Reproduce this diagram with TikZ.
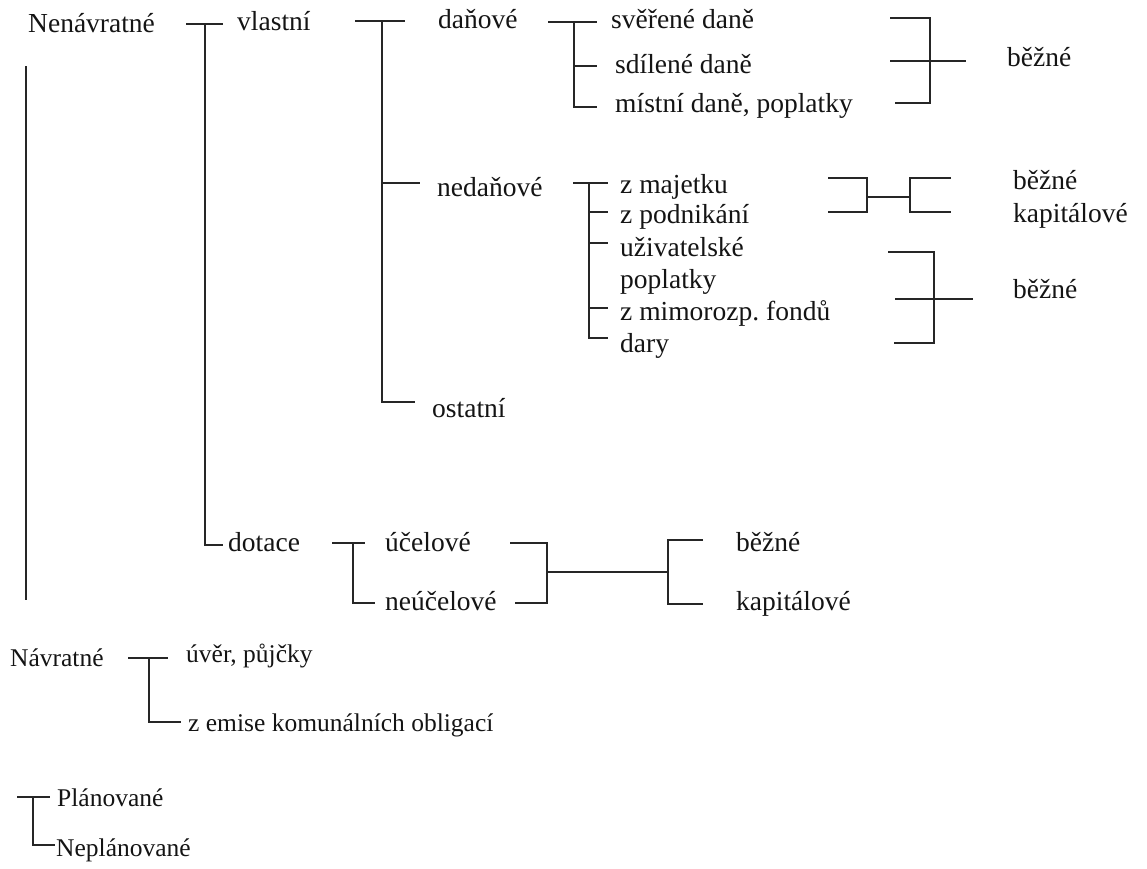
\documentclass[tikz,border=0pt]{standalone}
\usepackage{fontspec}
\setmainfont{Liberation Serif}
\begin{document}
\frenchspacing
\begin{tikzpicture}[x=1pt,y=-1pt,
  lbl/.style={anchor=base west,inner sep=0pt,text=black!92,
              font=\fontsize{27.5}{33}\selectfont},
  lblsm/.style={lbl,font=\fontsize{25.5}{31}\selectfont},
  wire/.style={line width=1.2pt,black!85}]
\useasboundingbox (0,0) rectangle (1147,868);

% ---------- labels ----------
\node[lbl] (nenav)  at (28,32)   {Nenávratné};
\node[lbl] (vlast)  at (237,30)  {vlastní};
\node[lbl] (danove) at (438,28)  {daňové};
\node[lbl] (sver)   at (611,28)  {svěřené daně};
\node[lbl] (sdil)   at (615,73)  {sdílené daně};
\node[lbl] (mist)   at (615,112) {místní daně, poplatky};
\node[lbl] (bezA)   at (1007,66) {běžné};

\node[lbl] (nedan)  at (437,196) {nedaňové};
\node[lbl] (majet)  at (620,193) {z majetku};
\node[lbl] (podn)   at (620,223) {z podnikání};
\node[lbl] (uziv)   at (620,256) {uživatelské};
\node[lbl] (popl)   at (620,288) {poplatky};
\node[lbl] (mimo)   at (620,320) {z mimorozp. fondů};
\node[lbl] (dary)   at (620,352) {dary};
\node[lbl] (bezB)   at (1013,189) {běžné};
\node[lbl] (kapB)   at (1013,222) {kapitálové};
\node[lbl] (bezC)   at (1013,298) {běžné};
\node[lbl] (ostat)  at (432,417) {ostatní};

\node[lbl] (dotace) at (228,551) {dotace};
\node[lbl] (ucel)   at (385,551) {účelové};
\node[lbl] (neucel) at (385,610) {neúčelové};
\node[lbl] (bezD)   at (736,551) {běžné};
\node[lbl] (kapD)   at (736,610) {kapitálové};

\node[lblsm] (navr)   at (10,666)  {Návratné};
\node[lblsm] (uver)   at (186,662) {úvěr, půjčky};
\node[lblsm] (emise)  at (188,731) {z emise komunálních obligací};

\node[lblsm] (plan)   at (57,806)  {Plánované};
\node[lblsm] (neplan) at (56,856)  {Neplánované};

% ---------- joints ----------
% left rule beside Nenávratné
\coordinate (rTop) at (26,66);   \coordinate (rBot) at (26,600);
% Nenávratné -> vlastní / dotace
\coordinate (a0) at (186,24);  \coordinate (a1) at (223,24);
\coordinate (aT) at (205,24);  \coordinate (aB) at (205,545); \coordinate (aE) at (223,545);
% vlastní -> daňové / nedaňové / ostatní
\coordinate (b0) at (355,21);  \coordinate (b1) at (405,21);
\coordinate (bT) at (382,21);  \coordinate (bB) at (382,402); \coordinate (bE) at (415,402);
\coordinate (bM) at (382,183); \coordinate (bN) at (420,183);
% daňové -> three taxes
\coordinate (c0) at (548,22);  \coordinate (c1) at (597,22);
\coordinate (cT) at (574,22);  \coordinate (cB) at (574,107); \coordinate (cE) at (597,107);
\coordinate (cM) at (574,66);  \coordinate (cN) at (597,66);
% taxes -> běžné
\coordinate (d0) at (890,18);  \coordinate (dT) at (930,18);
\coordinate (dB) at (930,103); \coordinate (d1) at (895,103);
\coordinate (dL) at (890,61);  \coordinate (dR) at (966,61);
% nedaňové -> six items
\coordinate (e0) at (573,183); \coordinate (e1) at (608,183);
\coordinate (eT) at (589,183); \coordinate (eB) at (589,338); \coordinate (eE) at (608,338);
\coordinate (e2) at (589,212); \coordinate (e2r) at (608,212);
\coordinate (e3) at (589,243); \coordinate (e3r) at (608,243);
\coordinate (e4) at (589,308); \coordinate (e4r) at (608,308);
% z majetku / z podnikání -> běžné / kapitálové
\coordinate (f0) at (828,178); \coordinate (fT) at (867,178);
\coordinate (fB) at (867,212); \coordinate (f1) at (828,212);
\coordinate (fM) at (867,197); \coordinate (gM) at (910,197);
\coordinate (g0) at (951,178); \coordinate (gT) at (910,178);
\coordinate (gB) at (910,212); \coordinate (g1) at (951,212);
% remaining items -> běžné
\coordinate (h0) at (888,252); \coordinate (hT) at (934,252);
\coordinate (hB) at (934,343); \coordinate (h1) at (894,343);
\coordinate (hL) at (895,299); \coordinate (hR) at (973,299);
% dotace -> účelové / neúčelové
\coordinate (i0) at (332,543); \coordinate (i1) at (365,543);
\coordinate (iT) at (353,543); \coordinate (iB) at (353,603); \coordinate (iE) at (375,603);
% účelové / neúčelové -> běžné / kapitálové
\coordinate (j0) at (510,543); \coordinate (jT) at (547,543);
\coordinate (jB) at (547,603); \coordinate (j1) at (515,603);
\coordinate (jM) at (547,572); \coordinate (kM) at (668,572);
\coordinate (k0) at (703,540); \coordinate (kT) at (668,540);
\coordinate (kB) at (668,604); \coordinate (k1) at (703,604);
% Návratné -> úvěr / emise
\coordinate (l0) at (128,658); \coordinate (l1) at (168,658);
\coordinate (lT) at (149,658); \coordinate (lB) at (149,722); \coordinate (lE) at (181,722);
% Plánované / Neplánované
\coordinate (m0) at (17,797);  \coordinate (m1) at (50,797);
\coordinate (mT) at (33,797);  \coordinate (mB) at (33,845); \coordinate (mE) at (55,845);

% ---------- connectors ----------
\draw[wire] (rTop) -- (rBot);
\draw[wire] (a0) -- (a1);  \draw[wire] (aT) -- (aB) -- (aE);
\draw[wire] (b0) -- (b1);  \draw[wire] (bT) -- (bB) -- (bE);  \draw[wire] (bM) -- (bN);
\draw[wire] (c0) -- (c1);  \draw[wire] (cT) -- (cB) -- (cE);  \draw[wire] (cM) -- (cN);
\draw[wire] (d0) -- (dT) -- (dB) -- (d1);  \draw[wire] (dL) -- (dR);
\draw[wire] (e0) -- (e1);  \draw[wire] (eT) -- (eB) -- (eE);
\draw[wire] (e2) -- (e2r); \draw[wire] (e3) -- (e3r); \draw[wire] (e4) -- (e4r);
\draw[wire] (f0) -- (fT) -- (fB) -- (f1);  \draw[wire] (fM) -- (gM);
\draw[wire] (g0) -- (gT) -- (gB) -- (g1);
\draw[wire] (h0) -- (hT) -- (hB) -- (h1);  \draw[wire] (hL) -- (hR);
\draw[wire] (i0) -- (i1);  \draw[wire] (iT) -- (iB) -- (iE);
\draw[wire] (j0) -- (jT) -- (jB) -- (j1);  \draw[wire] (jM) -- (kM);
\draw[wire] (k0) -- (kT) -- (kB) -- (k1);
\draw[wire] (l0) -- (l1);  \draw[wire] (lT) -- (lB) -- (lE);
\draw[wire] (m0) -- (m1);  \draw[wire] (mT) -- (mB) -- (mE);
\end{tikzpicture}
\end{document}
